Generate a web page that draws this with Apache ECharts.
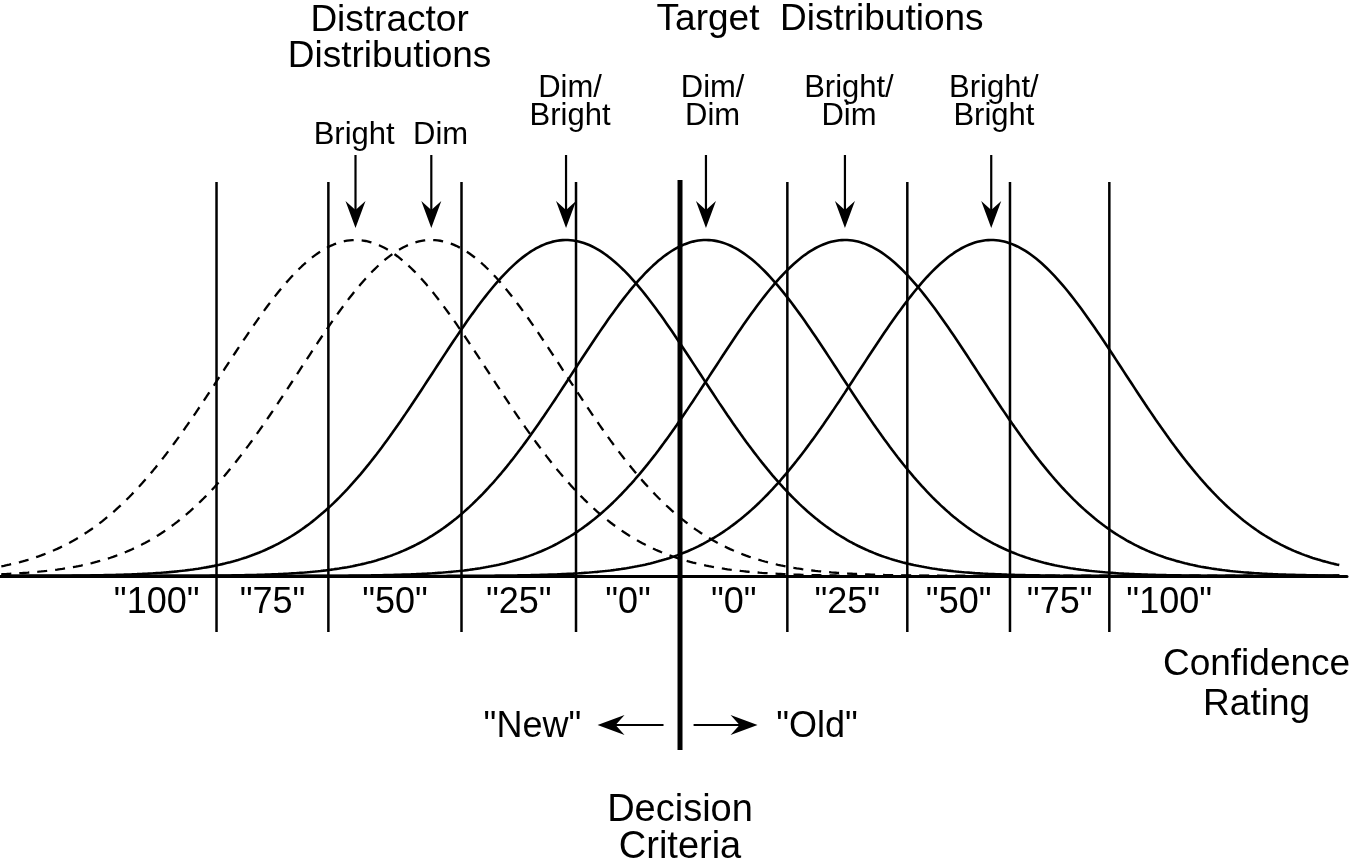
<!DOCTYPE html>
<html>
<head>
<meta charset="utf-8">
<script src="https://cdn.jsdelivr.net/npm/echarts@6/dist/echarts.min.js"></script>
<style>
html,body{margin:0;padding:0;background:#fff;}
#chart{width:1356px;height:867px;}
</style>
</head>
<body>
<div id="chart"></div>
<script>
// ---- data (x in units of one distribution SD, 0 = decision criterion) ----
const curveNames   = ['Bright', 'Dim', 'Dim/Bright', 'Dim/Dim', 'Bright/Dim', 'Bright/Bright'];
const curveKinds   = ['distractor', 'distractor', 'target', 'target', 'target', 'target'];
const curveMeans   = [-2.44, -1.87, -0.857, 0.195, 1.24, 2.34];
const curveSDs     = [1.0, 1.0, 1.0, 1.0, 1.0, 1.0];
const curveLabels  = ['Bright', 'Dim', 'Dim/\nBright', 'Dim/\nDim', 'Bright/\nDim', 'Bright/\nBright'];
const criteria     = [-3.485, -2.644, -1.643, -0.782, 0, 0.807, 1.709, 2.481, 3.228];
const decisionIdx  = 4;
const ratingLabels = ['"100"', '"75"', '"50"', '"25"', '"0"', '"0"', '"25"', '"50"', '"75"', '"100"'];
const groupTitles  = ['Distractor\nDistributions', 'Target  Distributions'];
const responseLabels = ['"New"', '"Old"'];
const axisTitle    = 'Confidence\nRating';
const criterionTitle = 'Decision\nCriteria';

// ---- layout ----
const X_MIN = -5.113, X_MAX = 5.015;
const Y_MIN = -291 / 336, Y_MAX = 576 / 336;
const FONT = '"Liberation Sans", Arial, Helvetica, sans-serif';

function curveData(mean, sd) {
  const pts = [];
  for (let x = X_MIN + 0.01; x <= X_MAX - 0.04; x += 0.02) {
    const z = (x - mean) / sd;
    pts.push([x, Math.exp(-0.5 * z * z)]);
  }
  return pts;
}

const series = [];
curveNames.forEach((name, i) => {
  series.push({
    name: name,
    type: 'line',
    data: curveData(curveMeans[i], curveSDs[i]),
    showSymbol: false,
    silent: true,
    smooth: false,
    lineStyle: {
      color: '#000',
      width: curveKinds[i] === 'distractor' ? 2.3 : 2.6,
      type: curveKinds[i] === 'distractor' ? [10, 8] : 'solid'
    },
    z: 2
  });
});

// vertical criterion lines
series.push({
  type: 'custom',
  clip: false,
  silent: true,
  data: criteria.map((c, i) => [c, i]),
  renderItem: function (params, api) {
    const c = api.value(0);
    const isDecision = api.value(1) === decisionIdx;
    const top = api.coord([c, isDecision ? 1.1786 : 1.1726]);
    const bot = api.coord([c, isDecision ? -0.518 : -0.1667]);
    return {
      type: 'line',
      shape: { x1: top[0], y1: top[1], x2: bot[0], y2: bot[1] },
      style: { stroke: '#000', lineWidth: isDecision ? 5 : 2.5 }
    };
  },
  z: 3
});

function arrowHead(tip, dir) {
  const L = 27, W = 10, N = 18;
  const pts = [[0, 0], [-W, -L], [0, -N], [W, -L]];
  return pts.map(p => {
    if (dir === 'down') return [tip[0] + p[0], tip[1] + p[1]];
    if (dir === 'left') return [tip[0] - p[1], tip[1] + p[0]];
    return [tip[0] + p[1], tip[1] + p[0]];
  });
}

// arrows pointing to distribution peaks + curve labels
series.push({
  type: 'custom',
  clip: false,
  silent: true,
  data: curveMeans.map((m, i) => [m, i]),
  renderItem: function (params, api) {
    const m = api.value(0);
    const i = api.value(1);
    const start = api.coord([m, 1.253]);
    const tip = api.coord([m, 1.036]);
    const labelOffsets = [-0.01, 0.07, 0.03, 0.05, 0.03, 0.02];
    const twoLine = curveLabels[i].indexOf('\n') >= 0;
    const lp = api.coord([m + labelOffsets[i], twoLine ? 1.41 : 1.31]);
    return {
      type: 'group',
      children: [
        { type: 'line', shape: { x1: start[0], y1: start[1], x2: tip[0], y2: tip[1] - 15 },
          style: { stroke: '#000', lineWidth: 2.2 } },
        { type: 'polygon', shape: { points: arrowHead(tip, 'down') }, style: { fill: '#000' } },
        { type: 'text', x: lp[0], y: lp[1],
          style: { text: curveLabels[i], fill: '#000', fontSize: 31, fontFamily: FONT,
                   align: 'center', verticalAlign: 'middle', lineHeight: 28 } }
      ]
    };
  },
  z: 4
});

// confidence rating labels (between criteria)
series.push({
  type: 'custom',
  clip: false,
  silent: true,
  data: ratingLabels.map((t, i) => [i]),
  renderItem: function (params, api) {
    const i = api.value(0);
    let cx;
    if (i === 0) cx = criteria[0] - 0.45;
    else if (i === ratingLabels.length - 1) cx = criteria[criteria.length - 1] + 0.45;
    else cx = (criteria[i - 1] + criteria[i]) / 2;
    const p = api.coord([cx, -0.082]);
    return {
      type: 'text', x: p[0], y: p[1],
      style: { text: ratingLabels[i], fill: '#000', fontSize: 36, fontFamily: FONT,
               align: 'center', verticalAlign: 'middle' }
    };
  },
  z: 4
});

// titles, response arrows, axis titles
series.push({
  type: 'custom',
  clip: false,
  silent: true,
  data: [[0]],
  renderItem: function (params, api) {
    const dc = criteria[decisionIdx];
    const t1 = api.coord([-2.184, 1.598]);
    const t2 = api.coord([1.053, 1.655]);
    const newP = api.coord([dc - 1.11, -0.449]);
    const oldP = api.coord([dc + 1.03, -0.449]);
    const la0 = api.coord([dc - 0.124, -0.4435]);
    const la1 = api.coord([dc - 0.62, -0.4435]);
    const ra0 = api.coord([dc + 0.102, -0.4435]);
    const ra1 = api.coord([dc + 0.583, -0.4435]);
    const conf = api.coord([4.335, -0.3244]);
    const dec = api.coord([dc, -0.752]);
    const txt = (p, s, size, lh) => ({
      type: 'text', x: p[0], y: p[1],
      style: { text: s, fill: '#000', fontSize: size, fontFamily: FONT,
               align: 'center', verticalAlign: 'middle', lineHeight: lh }
    });
    return {
      type: 'group',
      children: [
        txt(t1, groupTitles[0], 37, 36),
        txt(t2, groupTitles[1], 37, 36),
        txt(newP, responseLabels[0], 36, 36),
        txt(oldP, responseLabels[1], 36, 36),
        txt(conf, axisTitle, 37, 40),
        txt(dec, criterionTitle, 38, 37),
        { type: 'line', shape: { x1: la0[0], y1: la0[1], x2: la1[0] + 15, y2: la1[1] },
          style: { stroke: '#000', lineWidth: 2.2 } },
        { type: 'polygon', shape: { points: arrowHead(la1, 'left') }, style: { fill: '#000' } },
        { type: 'line', shape: { x1: ra0[0], y1: ra0[1], x2: ra1[0] - 15, y2: ra1[1] },
          style: { stroke: '#000', lineWidth: 2.2 } },
        { type: 'polygon', shape: { points: arrowHead(ra1, 'right') }, style: { fill: '#000' } }
      ]
    };
  },
  z: 4
});

const chart = echarts.init(document.getElementById('chart'), null, { renderer: 'canvas' });
chart.setOption({
  animation: false,
  backgroundColor: '#fff',
  grid: { left: 0, right: 9, top: 0, bottom: 0, containLabel: false },
  xAxis: {
    type: 'value', min: X_MIN, max: X_MAX,
    axisLine: { show: true, onZero: true, lineStyle: { color: '#000', width: 3 } },
    axisTick: { show: false }, axisLabel: { show: false }, splitLine: { show: false }
  },
  yAxis: {
    type: 'value', min: Y_MIN, max: Y_MAX, show: false,
    splitLine: { show: false }
  },
  series: series
});
</script>
</body>
</html>
